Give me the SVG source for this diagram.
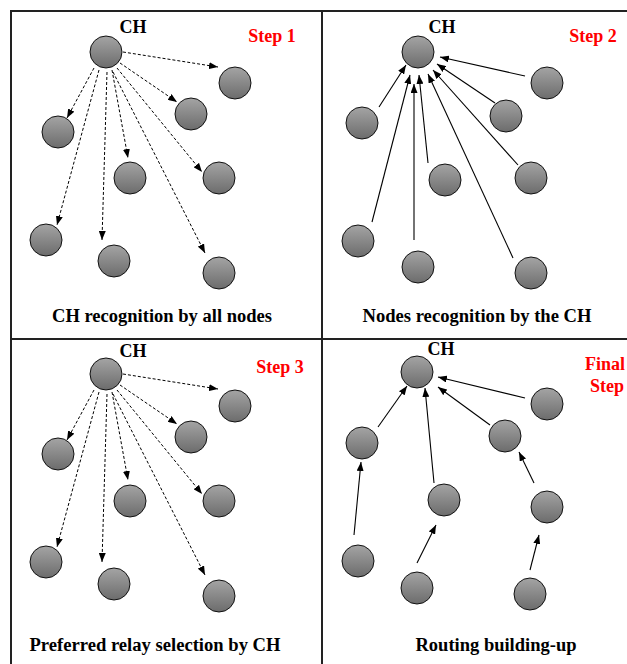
<svg xmlns="http://www.w3.org/2000/svg" width="627" height="664" viewBox="0 0 627 664">
<defs>
<linearGradient id="g" x1="0" y1="0" x2="0" y2="1">
<stop offset="0" stop-color="#a4a4a4"/>
<stop offset="1" stop-color="#6c6c6c"/>
</linearGradient>
<marker id="ah" markerUnits="userSpaceOnUse" markerWidth="9" markerHeight="7" refX="9" refY="3.5" orient="auto">
<path d="M0,0 L9,3.5 L0,7 z" fill="#000"/>
</marker>
<style>
.n{fill:url(#g);stroke:#111;stroke-width:1}
.t{font-family:"Liberation Serif","Times New Roman",serif;font-weight:bold;fill:#000}
.ch{font-size:18px}
.cap{font-size:18px}
.st{font-size:18px;fill:#ff0000}
.d{stroke:#000;stroke-width:1;stroke-dasharray:3,2;fill:none;marker-end:url(#ah)}
.s{stroke:#000;stroke-width:1.1;fill:none;marker-end:url(#ah)}
.fr{stroke:#222;stroke-width:2;fill:none}
</style>
</defs>
<g id="frame">
<line class="fr" x1="10" y1="11" x2="627" y2="11"/>
<line class="fr" x1="11" y1="10" x2="11" y2="664"/>
<line class="fr" x1="322" y1="11" x2="322" y2="664"/>
<line class="fr" x1="10" y1="339" x2="627" y2="339"/>
</g>
<g id="labels">
<text class="t ch" x="133" y="33" text-anchor="middle">CH</text>
<text class="t st" x="272" y="42" text-anchor="middle">Step 1</text>
<text class="t cap" x="162" y="322" text-anchor="middle" textLength="220" lengthAdjust="spacingAndGlyphs">CH recognition by all nodes</text>
<text class="t ch" x="442" y="33" text-anchor="middle">CH</text>
<text class="t st" x="593" y="42" text-anchor="middle">Step 2</text>
<text class="t cap" x="477" y="322" text-anchor="middle" textLength="229" lengthAdjust="spacingAndGlyphs">Nodes recognition by the CH</text>
<text class="t ch" x="133" y="357" text-anchor="middle">CH</text>
<text class="t st" x="280" y="373" text-anchor="middle">Step 3</text>
<text class="t cap" x="155" y="651" text-anchor="middle" textLength="251" lengthAdjust="spacingAndGlyphs">Preferred relay selection by CH</text>
<text class="t ch" x="441" y="355" text-anchor="middle">CH</text>
<text class="t st" x="605" y="370" text-anchor="middle">Final</text>
<text class="t st" x="607" y="392" text-anchor="middle">Step</text>
<text class="t cap" x="496" y="651" text-anchor="middle" textLength="161" lengthAdjust="spacingAndGlyphs">Routing building-up</text>
</g>
<g id="connectors">
<line class="d" x1="123" y1="52" x2="218" y2="67"/>
<line class="d" x1="120" y1="63" x2="177" y2="102"/>
<line class="d" x1="94" y1="68" x2="67" y2="118"/>
<line class="d" x1="112" y1="70" x2="128" y2="158"/>
<line class="d" x1="117" y1="68" x2="202" y2="172"/>
<line class="d" x1="99" y1="70" x2="57" y2="225"/>
<line class="d" x1="107" y1="72" x2="102" y2="240"/>
<line class="d" x1="113" y1="72" x2="205" y2="253"/>
<line class="s" x1="525" y1="76" x2="440" y2="57"/>
<line class="s" x1="495" y1="103" x2="437" y2="64"/>
<line class="s" x1="379" y1="107" x2="406" y2="65"/>
<line class="s" x1="428" y1="163" x2="419" y2="75"/>
<line class="s" x1="518" y1="165" x2="433" y2="70"/>
<line class="s" x1="372" y1="222" x2="410" y2="75"/>
<line class="s" x1="414" y1="240" x2="414" y2="84"/>
<line class="s" x1="513" y1="258" x2="428" y2="74"/>
<line class="d" x1="123" y1="374" x2="218" y2="389"/>
<line class="d" x1="120" y1="385" x2="177" y2="424"/>
<line class="d" x1="94" y1="390" x2="67" y2="440"/>
<line class="d" x1="112" y1="392" x2="128" y2="480"/>
<line class="d" x1="117" y1="390" x2="202" y2="494"/>
<line class="d" x1="99" y1="392" x2="57" y2="547"/>
<line class="d" x1="107" y1="394" x2="102" y2="562"/>
<line class="d" x1="113" y1="394" x2="205" y2="575"/>
<line class="s" x1="525" y1="398" x2="438" y2="377"/>
<line class="s" x1="490" y1="425" x2="438" y2="387"/>
<line class="s" x1="378" y1="427" x2="407" y2="386"/>
<line class="s" x1="434" y1="483" x2="425" y2="388"/>
<line class="s" x1="534" y1="483" x2="519" y2="452"/>
<line class="s" x1="354" y1="535" x2="361" y2="462"/>
<line class="s" x1="417" y1="563" x2="436" y2="525"/>
<line class="s" x1="530" y1="570" x2="539" y2="535"/>
</g>
<g id="p1-ch"><circle class="n" cx="106" cy="52" r="16"/></g>
<g id="p1-a"><circle class="n" cx="235" cy="83" r="16"/></g>
<g id="p1-b"><circle class="n" cx="191" cy="114" r="16"/></g>
<g id="p1-c"><circle class="n" cx="58" cy="132" r="16"/></g>
<g id="p1-d"><circle class="n" cx="130" cy="178" r="16"/></g>
<g id="p1-e"><circle class="n" cx="219" cy="178" r="16"/></g>
<g id="p1-f"><circle class="n" cx="46" cy="240" r="16"/></g>
<g id="p1-g"><circle class="n" cx="114" cy="261" r="16"/></g>
<g id="p1-h"><circle class="n" cx="219" cy="273" r="16"/></g>
<g id="p2-ch"><circle class="n" cx="418" cy="52" r="16"/></g>
<g id="p2-a"><circle class="n" cx="547" cy="83" r="16"/></g>
<g id="p2-b"><circle class="n" cx="506" cy="116" r="16"/></g>
<g id="p2-c"><circle class="n" cx="362" cy="123" r="16"/></g>
<g id="p2-d"><circle class="n" cx="445" cy="180" r="16"/></g>
<g id="p2-e"><circle class="n" cx="531" cy="178" r="16"/></g>
<g id="p2-f"><circle class="n" cx="358" cy="241" r="16"/></g>
<g id="p2-g"><circle class="n" cx="418" cy="267" r="16"/></g>
<g id="p2-h"><circle class="n" cx="531" cy="273" r="16"/></g>
<g id="p3-ch"><circle class="n" cx="106" cy="374" r="16"/></g>
<g id="p3-a"><circle class="n" cx="235" cy="406" r="16"/></g>
<g id="p3-b"><circle class="n" cx="191" cy="437" r="16"/></g>
<g id="p3-c"><circle class="n" cx="58" cy="454" r="16"/></g>
<g id="p3-d"><circle class="n" cx="130" cy="501" r="16"/></g>
<g id="p3-e"><circle class="n" cx="219" cy="501" r="16"/></g>
<g id="p3-f"><circle class="n" cx="46" cy="562" r="16"/></g>
<g id="p3-g"><circle class="n" cx="114" cy="584" r="16"/></g>
<g id="p3-h"><circle class="n" cx="219" cy="596" r="16"/></g>
<g id="p4-ch"><circle class="n" cx="417" cy="372" r="16"/></g>
<g id="p4-a"><circle class="n" cx="547" cy="404" r="16"/></g>
<g id="p4-b"><circle class="n" cx="505" cy="436" r="16"/></g>
<g id="p4-c"><circle class="n" cx="362" cy="443" r="16"/></g>
<g id="p4-d"><circle class="n" cx="444" cy="500" r="16"/></g>
<g id="p4-e"><circle class="n" cx="547" cy="507" r="16"/></g>
<g id="p4-f"><circle class="n" cx="358" cy="561" r="16"/></g>
<g id="p4-g"><circle class="n" cx="417" cy="588" r="16"/></g>
<g id="p4-h"><circle class="n" cx="530" cy="594" r="16"/></g>
</svg>
